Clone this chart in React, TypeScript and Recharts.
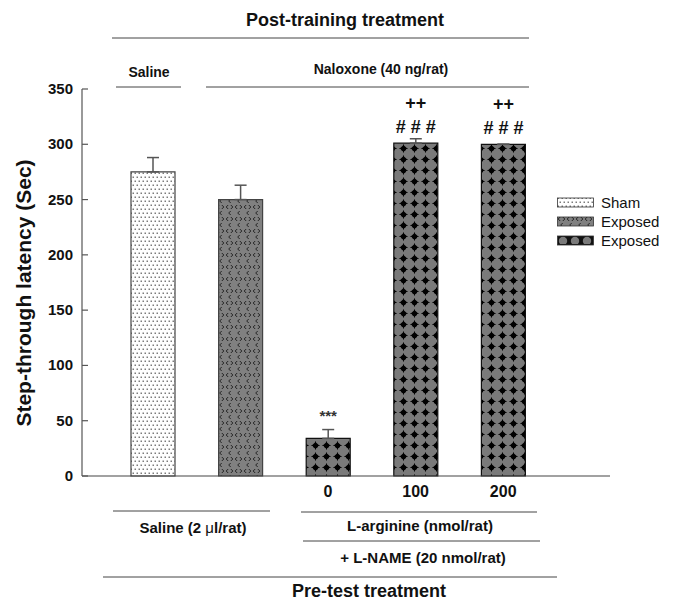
import React from "react";
import { BarChart, Bar, XAxis, YAxis, Cell, ErrorBar, LabelList } from "recharts";

// ── Data ───────────────────────────────────────────────────────────

const GROUPS = ["Sham", "Exposed", "L-arg 0", "L-arg 100", "L-arg 200"];
const DOSE_LABELS = ["", "", "0", "100", "200"];
const LATENCY = [275, 250, 34, 301, 300];
const SEM = [13, 13, 8, 4, 0];
const STAR_MARKS = ["", "", "***", "", ""];
const HASH_MARKS = ["", "", "", "# # #", "# # #"];
const PLUS_MARKS = ["", "", "", "++", "++"];
const Y_TICKS = [0, 50, 100, 150, 200, 250, 300, 350];
const LEGEND_NAMES = ["Sham", "Exposed", "Exposed"];

const FILLS = ["url(#pDots)", "url(#pArrows)", "url(#pDiamonds)", "url(#pDiamonds)", "url(#pDiamonds)"];
const EDGES = ["#444", "#444", "#111", "#111", "#111"];
const LEGEND_FILLS = ["url(#pDots)", "url(#pArrows)", "url(#pLegendDiamonds)"];

const FONT = "'Liberation Sans', Arial, Helvetica, sans-serif";

const rows = GROUPS.map((g, i) => ({
  group: g,
  dose: DOSE_LABELS[i],
  latency: LATENCY[i],
  err: [0, SEM[i]],
}));

// ── Pieces ─────────────────────────────────────────────────────────

function Patterns() {
  return (
    <defs>
      <pattern id="pDots" width="4" height="8" patternUnits="userSpaceOnUse">
        <rect width="4" height="8" fill="#fff" />
        <rect x="0.6" y="0.6" width="1.2" height="1.2" fill="#333" />
        <rect x="2.6" y="4.6" width="1.2" height="1.2" fill="#333" />
      </pattern>
      <pattern id="pArrows" width="9" height="12" patternUnits="userSpaceOnUse">
        <rect width="9" height="12" fill="#808080" />
        <path d="M3.2,1 L1.2,3 L3.2,5" stroke="#222" strokeWidth="1" fill="none" />
        <path d="M5.8,1 L7.8,3 L5.8,5" stroke="#222" strokeWidth="1" fill="none" />
        <path d="M5.7,7 L3.7,9 L5.7,11" stroke="#222" strokeWidth="1" fill="none" />
      </pattern>
      <pattern id="pDiamonds" width="11" height="11" patternUnits="userSpaceOnUse" x="2" y="0">
        <rect width="11" height="11" fill="#7a7a7a" />
        <path d="M5.5,0.8 Q6.3,4.7 10.2,5.5 Q6.3,6.3 5.5,10.2 Q4.7,6.3 0.8,5.5 Q4.7,4.7 5.5,0.8 Z" fill="#000" />
        <circle cx="5.5" cy="5.5" r="2.6" fill="#000" />
      </pattern>
      <pattern id="pLegendDiamonds" width="12" height="9" patternUnits="userSpaceOnUse" x="0" y="0">
        <rect width="12" height="9" fill="#111" />
        <circle cx="6" cy="6" r="4.2" fill="#7a7a7a" />
      </pattern>
    </defs>
  );
}

function YTick(props: any) {
  const { x, y, payload } = props;
  return (
    <g>
      <line x1={x + 9} x2={x + 15} y1={y} y2={y} stroke="#555" strokeWidth={1.2} />
      <text x={x} y={y} dy={5} textAnchor="end" fontSize={15} fontWeight="bold" fill="#111" fontFamily={FONT}>
        {payload.value}
      </text>
    </g>
  );
}

function MarkLabel(props: any) {
  const { x, y, width, index } = props;
  const cx = x + width / 2;
  return (
    <g fontFamily={FONT} fontWeight="bold" fill="#111" textAnchor="middle">
      {STAR_MARKS[index] && (
        <text x={cx} y={y - 17} fontSize={15} fill="#333">{STAR_MARKS[index]}</text>
      )}
      {HASH_MARKS[index] && (
        <text x={cx} y={y - 10} fontSize={18}>{HASH_MARKS[index]}</text>
      )}
      {PLUS_MARKS[index] && (
        <text x={cx} y={y - 34} fontSize={18}>{PLUS_MARKS[index]}</text>
      )}
    </g>
  );
}

function LegendBox() {
  return (
    <div style={{ position: "absolute", left: 557, top: 193, fontFamily: FONT, fontSize: 15, color: "#111" }}>
      {LEGEND_NAMES.map((name, i) => (
        <div key={i} style={{ display: "flex", alignItems: "center", height: 19 }}>
          <svg width={38} height={11} style={{ marginRight: 6 }}>
            <rect x={0.5} y={1} width={36} height={9} fill={LEGEND_FILLS[i]} stroke="#333" strokeWidth={0.8} />
          </svg>
          <span>{name}</span>
        </div>
      ))}
    </div>
  );
}

// group brackets and captions above and below the plot
function Annotations() {
  const line = { stroke: "#444", strokeWidth: 1 };
  return (
    <svg
      width={674}
      height={602}
      style={{ position: "absolute", left: 0, top: 0, pointerEvents: "none" }}
      fontFamily={FONT}
      fontWeight="bold"
      fill="#111"
    >
      <Patterns />
      <text x={345} y={26} fontSize={18} textAnchor="middle">Post-training treatment</text>
      <line x1={112} x2={529} y1={38} y2={38} {...line} />
      <text x={149} y={77} fontSize={14} textAnchor="middle">Saline</text>
      <line x1={116} x2={181} y1={87} y2={87} {...line} />
      <text x={381} y={74} fontSize={14} textAnchor="middle">Naloxone (40 ng/rat)</text>
      <line x1={206} x2={529} y1={87} y2={87} {...line} />

      <line x1={113} x2={270} y1={511} y2={511} {...line} />
      <text x={193} y={533} fontSize={15} textAnchor="middle">
        Saline (2 <tspan fontWeight="normal">μ</tspan>l/rat)
      </text>
      <line x1={301} x2={537} y1={512} y2={512} {...line} />
      <text x={420} y={531} fontSize={15} textAnchor="middle">L-arginine (nmol/rat)</text>
      <line x1={303} x2={540} y1={541} y2={541} {...line} />
      <text x={423} y={563} fontSize={15} textAnchor="middle">+ L-NAME (20 nmol/rat)</text>
      <line x1={103} x2={557} y1={577} y2={577} {...line} />
      <text x={369} y={597} fontSize={18} textAnchor="middle">Pre-test treatment</text>

      <text
        x={0}
        y={0}
        fontSize={21}
        textAnchor="middle"
        transform="translate(31 293) rotate(-90)"
      >
        Step-through latency (Sec)
      </text>
    </svg>
  );
}

// ── Chart ──────────────────────────────────────────────────────────

export default function App() {
  return (
    <div style={{ position: "absolute", left: 0, top: 0, width: 674, height: 602, background: "#fff", fontFamily: FONT }}>
      <BarChart
        width={674}
        height={602}
        data={rows}
        margin={{ top: 89, right: 64, bottom: 96, left: 22 }}
        barSize={44}
      >
        <XAxis
          dataKey="group"
          tickFormatter={(_v: any, i: number) => DOSE_LABELS[i]}
          tickLine={false}
          tickSize={0}
          tickMargin={10}
          height={30}
          padding={{ left: 27, right: 63 }}
          axisLine={{ stroke: "#444", strokeWidth: 1.2 }}
          tick={{ fontSize: 16, fontWeight: "bold", fill: "#111", fontFamily: FONT }}
          interval={0}
        />
        <YAxis
          width={60}
          domain={[0, 350]}
          ticks={Y_TICKS}
          tickLine={false}
          tickSize={0}
          tickMargin={9}
          axisLine={{ stroke: "#555", strokeWidth: 1.2 }}
          tick={<YTick />}
          interval={0}
        />
        <Bar dataKey="latency" isAnimationActive={false} strokeWidth={1.2}>
          {rows.map((_r, i) => (
            <Cell key={i} fill={FILLS[i]} stroke={EDGES[i]} />
          ))}
          <ErrorBar dataKey="err" width={6} stroke="#555" strokeWidth={1.5} isAnimationActive={false} />
          <LabelList dataKey="latency" content={<MarkLabel />} />
        </Bar>
      </BarChart>
      <LegendBox />
      <Annotations />
    </div>
  );
}
